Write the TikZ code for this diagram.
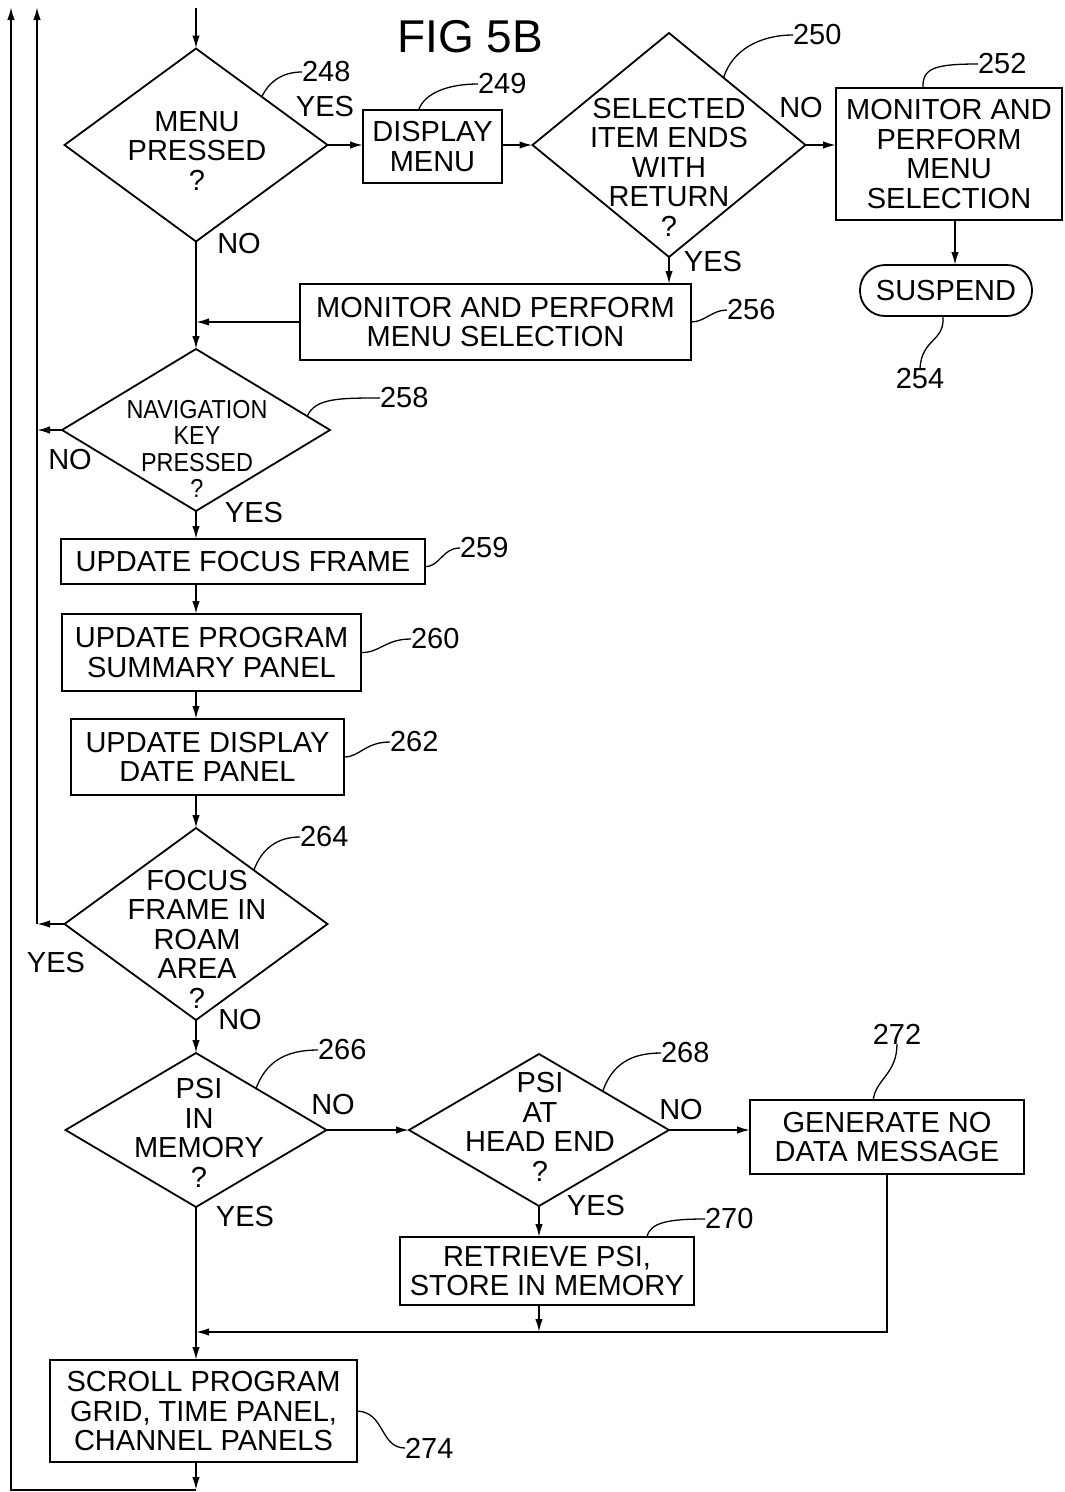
\documentclass[tikz,border=0pt]{standalone}
\usepackage{fontspec}
\setmainfont{Liberation Sans}
\newfontfamily\narrowfont{Liberation Sans}[FakeStretch=0.9]
\usetikzlibrary{shapes.geometric,arrows.meta,calc}
\begin{document}
\begin{tikzpicture}[x=1pt,y=-1pt, line width=1.8pt,
 every node/.style={inner sep=0pt, outer sep=0pt},
 dia/.style={draw, diamond},
 box/.style={draw, rectangle, align=center, font=\fontsize{29}{29.5}\selectfont},
 txt/.style={align=center, font=\fontsize{29}{29.5}\selectfont},
 lbl/.style={font=\fontsize{29}{29.5}\selectfont},
 arr/.style={-{Latex[length=13pt,width=7.5pt]}},
 lead/.style={line width=1.3pt},
]
\fill[white] (0,0) rectangle (1065,1492);
\useasboundingbox (0,0) rectangle (1065,1492);

\node[font=\fontsize{46}{46}\selectfont] (title) at (470,37) {FIG 5B};

% shapes
\node[dia, minimum width=263, minimum height=193] (d248) at (196,145) {};
\node[txt] (d248t) at (197,151) {MENU\\PRESSED\\?};
\node[box, minimum width=139, minimum height=73] (b249) at (432.5,146.5) {DISPLAY\\MENU};
\node[dia, minimum width=273, minimum height=224] (d250) at (669,145) {};
\node[txt] (d250t) at (669,167) {SELECTED\\ITEM ENDS\\WITH\\RETURN\\?};
\node[box, minimum width=226, minimum height=132] (b252) at (949,154) {MONITOR AND\\PERFORM\\MENU\\SELECTION};
\node[box, rounded corners=25pt, minimum width=172, minimum height=51] (susp) at (946,290.5) {SUSPEND};
\node[box, minimum width=391, minimum height=76] (b256) at (495.5,322) {MONITOR AND PERFORM\\MENU SELECTION};
\node[dia, minimum width=268, minimum height=162] (d258) at (196,430) {};
\node[txt, font=\narrowfont\fontsize{26}{26.5}\selectfont] (d258t) at (197,449) {NAVIGATION\\KEY\\PRESSED\\?};
\node[box, minimum width=364, minimum height=45] (b259) at (243,561.5) {UPDATE FOCUS FRAME};
\node[box, minimum width=299, minimum height=77] (b260) at (211.5,652.5) {UPDATE PROGRAM\\SUMMARY PANEL};
\node[box, minimum width=273, minimum height=76] (b262) at (207.5,757) {UPDATE DISPLAY\\DATE PANEL};
\node[dia, minimum width=263, minimum height=192] (d264) at (196,924) {};
\node[txt] (d264t) at (197,939) {FOCUS\\FRAME IN\\ROAM\\AREA\\?};
\node[dia, minimum width=261, minimum height=154] (d266) at (196,1130) {};
\node[txt] (d266t) at (199,1133) {PSI\\IN\\MEMORY\\?};
\node[dia, minimum width=260, minimum height=152] (d268) at (539,1130) {};
\node[txt] (d268t) at (540,1127) {PSI\\AT\\HEAD END\\?};
\node[box, minimum width=294, minimum height=68] (b270) at (547,1271) {RETRIEVE PSI,\\STORE IN MEMORY};
\node[box, minimum width=274, minimum height=74] (b272) at (887,1137) {GENERATE NO\\DATA MESSAGE};
\node[box, minimum width=307, minimum height=102] (b274) at (203.5,1411) {SCROLL PROGRAM\\GRID, TIME PANEL,\\CHANNEL PANELS};

% yes/no labels
\node[lbl] (y248) at (325,107) {YES};
\node[lbl] (n248) at (239,244) {NO};
\node[lbl] (n250) at (801,108) {NO};
\node[lbl] (y250) at (713,262) {YES};
\node[lbl] (n258) at (70,460) {NO};
\node[lbl] (y258) at (254,513) {YES};
\node[lbl] (y264) at (56,963) {YES};
\node[lbl] (n264) at (240,1020) {NO};
\node[lbl] (n266) at (333,1105) {NO};
\node[lbl] (y266) at (245,1217) {YES};
\node[lbl] (n268) at (681,1110) {NO};
\node[lbl] (y268) at (596,1206) {YES};

% coordinates
\coordinate (in) at (196,8);
\coordinate (j1) at (196,1332);
\coordinate (j2) at (887,1332);
\coordinate (ob) at (196,1490);
\coordinate (oc) at (11,1490);
\coordinate (ot) at (11,7);
\coordinate (i1) at (37,924);
\coordinate (i2) at (37,430);
\coordinate (it) at (37,7);

% connectors
\draw[arr] (in) -- (d248.north);
\draw[arr] (d248.east) -- (d248.east -| b249.west);
\draw[arr] (b249.east |- d250.west) -- (d250.west);
\draw[arr] (d250.east) -- (d250.east -| b252.west);
\draw[arr] ($(b252.south)+(6,0)$) -- ($(susp.north)+(9,0)$);
\draw[arr] (d250.south) -- (b256.north -| d250.south);
\draw[arr] (b256.west) -- (b256.west -| d248.south);
\draw[arr] (d248.south) -- (d258.north);
\draw[arr] (d258.west) -- (i2);
\draw[arr] (d258.south) -- (b259.north -| d258.south);
\draw[arr] (b259.south -| d258.south) -- (b260.north -| d258.south);
\draw[arr] (b260.south -| d258.south) -- (b262.north -| d258.south);
\draw[arr] (b262.south -| d258.south) -- (d264.north);
\draw[arr] (d264.west) -- (i1);
\draw[arr] (i1) -- (it);
\draw[arr] (d264.south) -- (d266.north);
\draw[arr] (d266.east) -- (d268.west);
\draw[arr] (d268.east) -- (d268.east -| b272.west);
\draw[arr] (d268.south) -- (b270.north -| d268.south);
\draw[arr] (b270.south -| d268.south) -- (d268.south |- j1);
\draw[arr] (b272.south) -- (j2) -- (j1);
\draw[arr] (d266.south) -- (b274.north -| d266.south);
\draw[arr] (b274.south -| d266.south) -- (ob);
\draw[arr] (ob) -- (oc) -- (ot);

% reference numerals with leaders
\node[lbl, anchor=west] (r248) at (302,72) {248};
\draw[lead] ($(d248.north)!0.5!(d248.east)$) .. controls (270,80) and (284,72) .. (r248.west);
\node[lbl, anchor=west] (r249) at (478,84) {249};
\draw[lead] ($(b249.north west)!0.4!(b249.north east)$) .. controls (425,92) and (450,84) .. (r249.west);
\node[lbl, anchor=west] (r250) at (793,35) {250};
\draw[lead] ($(d250.north)!0.4!(d250.east)$) .. controls (732,50) and (760,35) .. (r250.west);
\node[lbl, anchor=west] (r252) at (978,64) {252};
\draw[lead] ($(b252.north west)!0.385!(b252.north east)$) .. controls (922,68) and (935,64) .. (r252.west);
\node[lbl, anchor=north] (r254) at (920,368) {254};
\draw[lead] ($(susp.south)+(-3,0)$) .. controls (945,342) and (922,338) .. (r254.north);
\node[lbl, anchor=west] (r256) at (727,310) {256};
\draw[lead] (b256.east) .. controls (705,322) and (712,310) .. (r256.west);
\node[lbl, anchor=west] (r258) at (380,398) {258};
\draw[lead] ($(d258.north)!0.83!(d258.east)$) .. controls (315,398) and (340,398) .. (r258.west);
\node[lbl, anchor=west] (r259) at (460,548) {259};
\draw[lead] ($(b259.east)+(0,5)$) .. controls (440,567) and (442,548) .. (r259.west);
\node[lbl, anchor=west] (r260) at (411,639) {260};
\draw[lead] (b260.east) .. controls (380,653) and (385,639) .. (r260.west);
\node[lbl, anchor=west] (r262) at (390,742) {262};
\draw[lead] (b262.east) .. controls (360,757) and (365,742) .. (r262.west);
\node[lbl, anchor=west] (r264) at (300,837) {264};
\draw[lead] ($(d264.north)!0.44!(d264.east)$) .. controls (262,848) and (278,837) .. (r264.west);
\node[lbl, anchor=west] (r266) at (318,1050) {266};
\draw[lead] ($(d266.north)!0.46!(d266.east)$) .. controls (266,1062) and (285,1050) .. (r266.west);
\node[lbl, anchor=west] (r268) at (661,1053) {268};
\draw[lead] ($(d268.north)!0.49!(d268.east)$) .. controls (612,1065) and (630,1053) .. (r268.west);
\node[lbl, anchor=west] (r270) at (705,1219) {270};
\draw[lead] ($(b270.north west)!0.84!(b270.north east)$) .. controls (650,1222) and (670,1219) .. (r270.west);
\node[lbl, anchor=south] (r272) at (897,1044) {272};
\draw[lead] ($(b272.north west)!0.45!(b272.north east)$) .. controls (875,1080) and (897,1074) .. (r272.south);
\node[lbl, anchor=west] (r274) at (405,1448) {274};
\draw[lead] (b274.east) .. controls (385,1412) and (380,1448) .. (r274.west);
\end{tikzpicture}
\end{document}
